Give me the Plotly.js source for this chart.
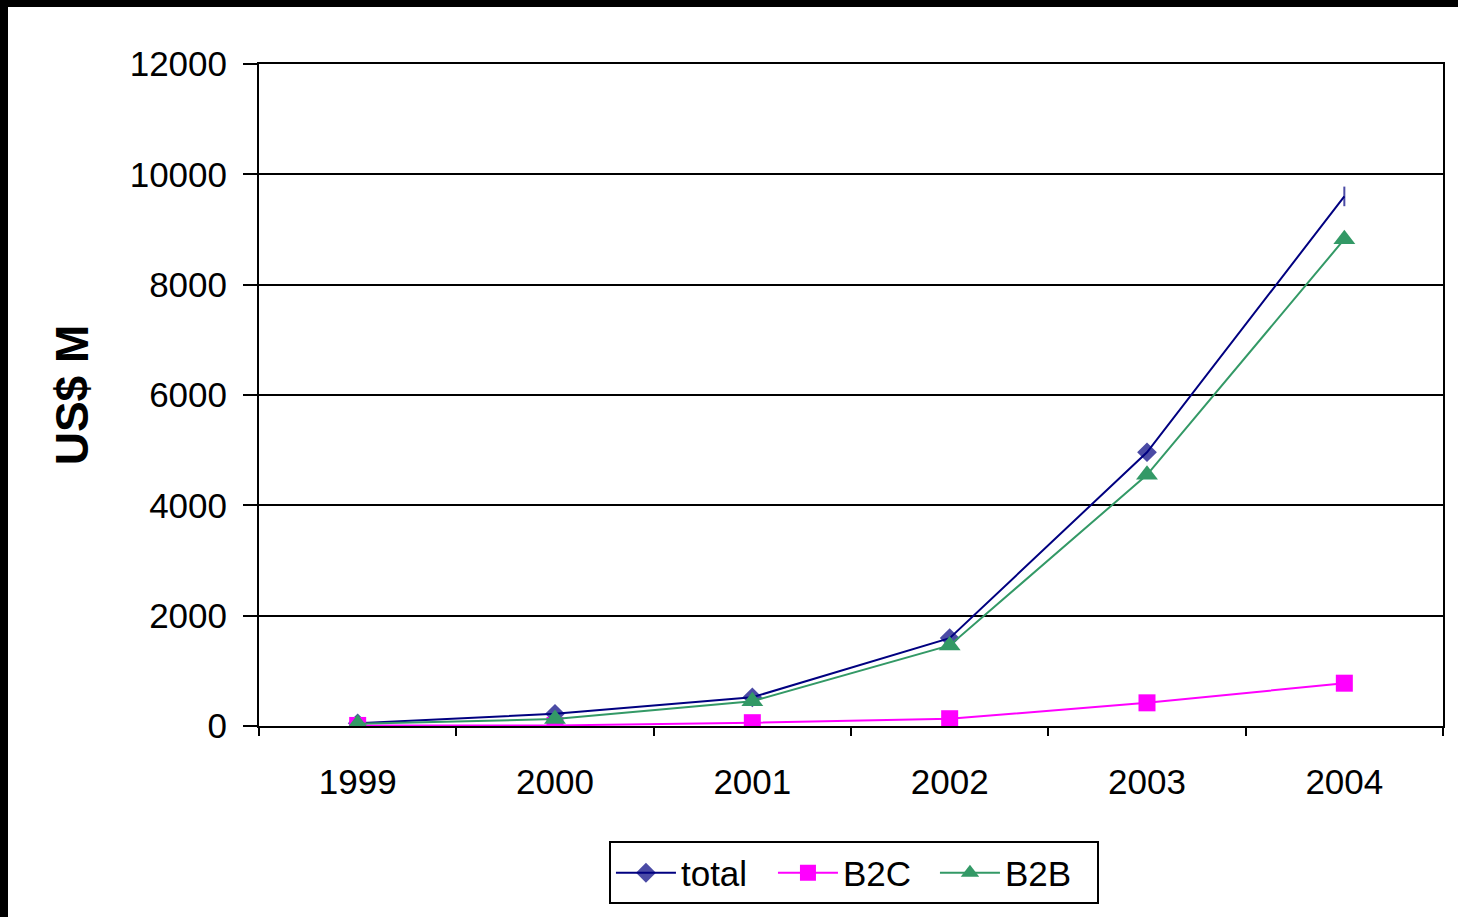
<!DOCTYPE html>
<html>
<head>
<meta charset="utf-8">
<script src="https://cdn.plot.ly/plotly-3.0.1.min.js"></script>
<style>
  html, body { margin: 0; padding: 0; background: #000; width: 1458px; height: 917px; overflow: hidden; }
  #chart { position: absolute; left: 8px; top: 7px; width: 1450px; height: 910px; background: #fff; }
</style>
</head>
<body>
<div id="chart"></div>
<script>
const years = ['1999', '2000', '2001', '2002', '2003', '2004'];
const totalValues = [50, 220, 520, 1593, 4962, 9600];
const b2cValues = [10, 10, 60, 132, 420, 776];
const b2bValues = [40, 125, 450, 1460, 4553, 8824];
const yTicks = [0, 2000, 4000, 6000, 8000, 10000, 12000];

const FONT = 'Liberation Sans, Arial, sans-serif';

const traces = [
  {
    x: years, y: totalValues, name: 'total', type: 'scatter', mode: 'lines+markers',
    line: { color: '#000080', width: 2 },
    marker: {
      color: '#000080',
      symbol: ['diamond', 'diamond', 'diamond', 'diamond', 'diamond', 'line-ns'],
      size: [13, 13, 13, 13, 13, 14],
      line: { color: '#000080', width: 2 }
    }
  },
  {
    x: years, y: b2cValues, name: 'B2C', type: 'scatter', mode: 'lines+markers',
    line: { color: '#FF00FF', width: 2 },
    marker: { color: '#FF00FF', symbol: 'square', size: 17 }
  },
  {
    x: years, y: b2bValues, name: 'B2B', type: 'scatter', mode: 'lines+markers',
    line: { color: '#339966', width: 2 },
    marker: { color: '#339966', symbol: 'triangle-up', size: 19 }
  }
];

const layout = {
  width: 1450, height: 910,
  paper_bgcolor: '#ffffff', plot_bgcolor: '#ffffff',
  margin: { l: 251, r: 15, t: 57, b: 188 },
  font: { family: FONT, size: 35, color: '#000' },
  showlegend: true,
  legend: {
    orientation: 'h',
    x: 0.5025, xanchor: 'center',
    y: -0.1744, yanchor: 'top',
    bordercolor: '#000', borderwidth: 2,
    bgcolor: '#fff',
    font: { family: FONT, size: 35, color: '#000' },
    entrywidth: 87,
    itemwidth: 60
  },
  xaxis: {
    type: 'category',
    categoryorder: 'array', categoryarray: years,
    range: [-0.5, 5.5],
    tickson: 'boundaries',
    ticks: 'outside', ticklen: 8, tickwidth: 2, tickcolor: '#000',
    showline: true, linecolor: '#000', linewidth: 2, mirror: true,
    showgrid: false, zeroline: false,
    tickfont: { family: FONT, size: 35, color: '#000' },
    ticklabelstandoff: 24,
    fixedrange: true
  },
  yaxis: {
    range: [0, 12000],
    tickmode: 'array', tickvals: yTicks, ticktext: yTicks.map(String),
    ticks: 'outside', ticklen: 14, tickwidth: 2, tickcolor: '#000',
    showline: true, linecolor: '#000', linewidth: 2, mirror: true,
    showgrid: true, gridcolor: '#000', gridwidth: 2,
    zeroline: false,
    tickfont: { family: FONT, size: 35, color: '#000' },
    ticklabelstandoff: 9,
    title: { text: '<b>US$ M</b>', font: { family: FONT, size: 46, color: '#000' }, standoff: 27 },
    automargin: false,
    fixedrange: true
  }
};

Plotly.newPlot('chart', traces, layout, { displayModeBar: false, staticPlot: true });
</script>
</body>
</html>
